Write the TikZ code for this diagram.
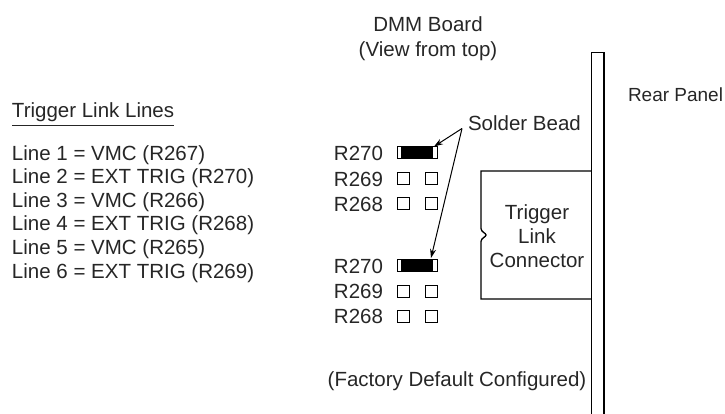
\documentclass[tikz,border=0pt]{standalone}
\usepackage{fontspec}
\setmainfont{Liberation Sans}
\usetikzlibrary{arrows.meta,calc}
\begin{document}
\begin{tikzpicture}[x=1pt,y=-1pt,
  txt/.style={inner sep=0pt,outer sep=0pt,text=black!85,font=\fontsize{20.5}{24}\selectfont},
  pad/.style={draw=black,line width=1pt,fill=white},
  wall/.style={draw=black,line width=1.3pt},
  arr/.style={line width=1pt,-{Stealth[length=9pt,width=6pt]}}]
\useasboundingbox (0,0) rectangle (725,413);
% titles
\node[txt,anchor=base] (dmm) at (428,31.5) {DMM Board};
\node[txt,anchor=base] (view) at (428,56) {(View from top)};
\node[txt,anchor=base west,font=\fontsize{19}{24}\selectfont] (rear) at (628,101) {Rear Panel};
% trigger link list
\node[txt,anchor=base west] (tll) at (12,117) {Trigger Link Lines};
\draw[line width=0.8pt,black!85] ($(tll.south west)+(0,4.5)$) -- ($(tll.south east)+(0,4.5)$);
\node[txt,anchor=base west] (l1) at (12,160) {Line 1 = VMC (R267)};
\node[txt,anchor=base west] (l2) at (12,183.6) {Line 2 = EXT TRIG (R270)};
\node[txt,anchor=base west] (l3) at (12,207.2) {Line 3 = VMC (R266)};
\node[txt,anchor=base west] (l4) at (12,230.8) {Line 4 = EXT TRIG (R268)};
\node[txt,anchor=base west] (l5) at (12,254.4) {Line 5 = VMC (R265)};
\node[txt,anchor=base west] (l6) at (12,278) {Line 6 = EXT TRIG (R269)};
% rear panel
\draw[wall] (591.5,420) -- (591.5,52.5) -- (604,52.5) -- (604,420);
% connector box with notch
\draw[wall] (591.5,171) -- (481,171) -- (481,228.5)
  .. controls (481,232) and (486,233) .. (486,235)
  .. controls (486,237) and (481,238) .. (481,241.5)
  -- (481,299) -- (591.5,299);
\node[txt,anchor=base] (c1) at (537,219.5) {Trigger};
\node[txt,anchor=base] (c2) at (537,243.5) {Link};
\node[txt,anchor=base] (c3) at (537,267.5) {Connector};
% resistor group 1
\node[txt,anchor=base east] (ra1) at (383,160.5) {R270};
\node[txt,anchor=base east] (rb1) at (383,186) {R269};
\node[txt,anchor=base east] (rc1) at (383,211.5) {R268};
\draw[pad] (397,146.5) rectangle (437,158.5);
\fill[black] (401,146.5) rectangle (433,158.5);
\coordinate (bead1) at (434,146.5);
\draw[pad] (397,172.5) rectangle (409,184);
\draw[pad] (425,172.5) rectangle (437,184);
\draw[pad] (397,197.5) rectangle (409,209);
\draw[pad] (425,197.5) rectangle (437,209);
% resistor group 2
\node[txt,anchor=base east] (ra2) at (383,273) {R270};
\node[txt,anchor=base east] (rb2) at (383,298.5) {R269};
\node[txt,anchor=base east] (rc2) at (383,323.5) {R268};
\draw[pad] (397,259.5) rectangle (437,271.5);
\fill[black] (401,259.5) rectangle (433,271.5);
\coordinate (bead2) at (431,258);
\draw[pad] (397,285.5) rectangle (409,297);
\draw[pad] (425,285.5) rectangle (437,297);
\draw[pad] (397,310.5) rectangle (409,322);
\draw[pad] (425,310.5) rectangle (437,322);
% solder bead label and arrows
\node[txt,anchor=base west] (sb) at (468,130) {Solder Bead};
\coordinate (sbs) at (462,128.5);
\draw[arr] (sbs) -- (bead1);
\draw[arr] (sbs) -- (bead2);
% footer
\node[txt,anchor=base] (fd) at (457,386.5) {(Factory Default Configured)};
\end{tikzpicture}
\end{document}
